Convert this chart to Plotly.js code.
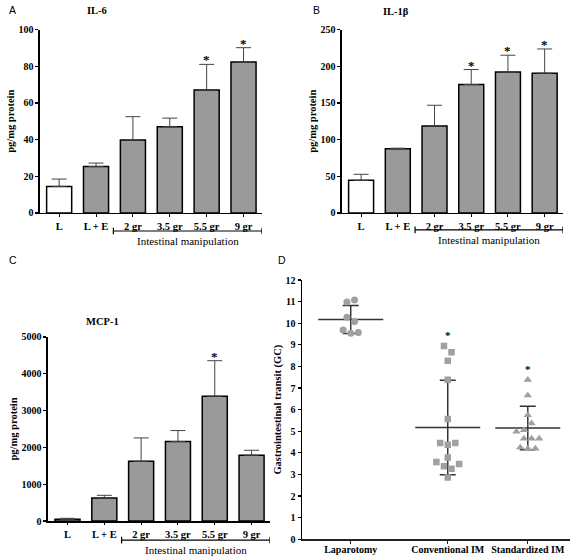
<!DOCTYPE html>
<html><head><meta charset="utf-8">
<script src="https://cdn.plot.ly/plotly-3.0.1.min.js"></script>
<style>html,body{margin:0;padding:0;background:#fff}#chart{width:572px;height:558px}</style>
</head><body><div id="chart"></div><script>
// ---- bar panels (A, B, C) ----
const groups = ['L', 'L + E', '2 gr', '3.5 gr', '5.5 gr', '9 gr'];
const il6 = [14.5, 25.3, 39.8, 47, 67, 82.3];
const il6Err = [4, 1.9, 12.7, 4.7, 14, 7.8];
const il6Sig = [false, false, false, false, true, true];
const il1b = [44.5, 87.5, 118.6, 175, 192, 190.5];
const il1bErr = [8.2, 0.8, 28.2, 20.5, 23, 33];
const il1bSig = [false, false, false, true, true, true];
const mcp1 = [45, 626, 1623, 2158, 3390, 1786];
const mcp1Err = [28, 72, 634, 299, 965, 136];
const mcp1Sig = [false, false, false, false, true, false];
const barFill = ['#ffffff', '#9a9a9a', '#9a9a9a', '#9a9a9a', '#9a9a9a', '#9a9a9a'];

// ---- panel D (gastrointestinal transit, GC) ----
const dotGroups = ['Laparotomy', 'Conventional IM', 'Standardized IM'];
const dotPos = [1, 2, 2.825];
const lap = [10.98, 11.08, 10.28, 10.08, 9.69, 9.54, 9.57];
const lapSlot = [-0.5, 0.5, -0.5, 0.5, -1, 0, 1];
const conv = [8.95, 8.66, 8.26, 7.38, 5.57, 4.46, 4.38, 4.46, 3.78, 3.58, 3.38, 3.26, 3.48, 2.86];
const convSlot = [-0.5, 0.5, 0, 0, 0, -1, 0, 1, 0, -1.5, -0.5, 0.5, 1.5, 0];
const stdz = [7.38, 6.66, 5.75, 5.37, 4.98, 5.05, 4.66, 4.66, 4.66, 4.25, 4.2, 4.2];
const stdzSlot = [0, 0, 0, 0.5, -1.5, -0.5, -0.5, 0.5, 1.5, -1, 0, 1];
const dotSig = [false, true, true];

const SERIF = 'Liberation Serif';
const SLOT = 0.078;

function mean(a) { return a.reduce((s, v) => s + v, 0) / a.length; }
function sd(a) { const m = mean(a); return Math.sqrt(a.reduce((s, v) => s + (v - m) * (v - m), 0) / (a.length - 1)); }

const traces = [];
const annotations = [];
const shapes = [];

function barPanel(vals, errs, sig, xa, ya) {
  traces.push({
    type: 'bar', x: groups, y: vals, xaxis: xa, yaxis: ya, width: 0.68,
    marker: { color: barFill, line: { color: '#000', width: 1.5 } },
    error_y: { type: 'data', symmetric: false, array: errs, arrayminus: errs.map(() => 0),
               color: '#444', thickness: 1, width: 7.5 },
    showlegend: false, hoverinfo: 'skip'
  });
  sig.forEach((s, i) => {
    if (!s) return;
    annotations.push({ xref: xa, yref: ya, x: groups[i], y: vals[i] + errs[i], text: '<b>*</b>',
      showarrow: false, yanchor: 'bottom', yshift: -5, font: { family: SERIF, size: 13, color: '#000' } });
  });
}

barPanel(il6, il6Err, il6Sig, 'x', 'y');
barPanel(il1b, il1bErr, il1bSig, 'x2', 'y2');
barPanel(mcp1, mcp1Err, mcp1Sig, 'x3', 'y3');

// brackets for "Intestinal manipulation"
const brackets = [ ['x', 0.586], ['x2', 0.588], ['x3', 0.032] ];
brackets.forEach(([xa, yp]) => {
  const ln = { color: '#000', width: 1.2 };
  shapes.push({ type: 'line', xref: xa, yref: 'paper', x0: 1.47, x1: 5.5, y0: yp, y1: yp, line: ln });
  shapes.push({ type: 'line', xref: xa, yref: 'paper', x0: 1.47, x1: 1.47, y0: yp - 0.006, y1: yp + 0.006, line: ln });
  shapes.push({ type: 'line', xref: xa, yref: 'paper', x0: 5.5, x1: 5.5, y0: yp - 0.006, y1: yp + 0.006, line: ln });
  annotations.push({ xref: xa, yref: 'paper', x: 3.485, y: yp - 0.018, text: 'Intestinal manipulation',
    showarrow: false, yanchor: 'middle', font: { family: SERIF, size: 11, color: '#000' } });
});

// panel D
const dotSets = [lap, conv, stdz];
const dotSlots = [lapSlot, convSlot, stdzSlot];
const dotSymbols = ['circle', 'square', 'triangle-up'];
const dotSizes = [7, 6.5, 7.5];
dotSets.forEach((vals, g) => {
  const m = mean(vals), s = sd(vals);
  traces.push({ type: 'scatter', mode: 'lines', xaxis: 'x4', yaxis: 'y4',
    x: [dotPos[g] - 0.335, dotPos[g] + 0.335], y: [m, m],
    line: { color: '#333', width: 1.5 }, showlegend: false, hoverinfo: 'skip' });
  traces.push({ type: 'scatter', mode: 'markers', xaxis: 'x4', yaxis: 'y4',
    x: [dotPos[g]], y: [m], marker: { size: 1, opacity: 0 },
    error_y: { type: 'data', array: [s], color: '#333', thickness: 1.5, width: 8 },
    showlegend: false, hoverinfo: 'skip' });
});
dotSets.forEach((vals, g) => {
  traces.push({ type: 'scatter', mode: 'markers', xaxis: 'x4', yaxis: 'y4',
    x: vals.map((v, i) => dotPos[g] + dotSlots[g][i] * SLOT), y: vals,
    marker: { symbol: dotSymbols[g], size: dotSizes[g], color: '#a0a0a0' },
    showlegend: false, hoverinfo: 'skip' });
  if (dotSig[g]) {
    annotations.push({ xref: 'x4', yref: 'y4', x: dotPos[g], y: Math.max(...vals), text: '<b>*</b>',
      showarrow: false, yanchor: 'middle', yshift: 11, font: { family: SERIF, size: 11, color: '#000' } });
  }
});

// titles & panel letters
const letterFont = { family: 'Liberation Sans', size: 10.5, color: '#000' };
[
  ['<b>IL-6</b>', 0.1696, 0.982], ['<b>IL-1β</b>', 0.692, 0.9785], ['<b>MCP-1</b>', 0.18, 0.423]
].forEach(([t, x, y]) => annotations.push({ xref: 'paper', yref: 'paper', x, y, text: t, showarrow: false,
  xanchor: 'center', yanchor: 'middle', font: { family: SERIF, size: 10.5, color: '#000' } }));
[
  ['A', 0.0227, 0.982], ['B', 0.554, 0.982], ['C', 0.0227, 0.534], ['D', 0.493, 0.534]
].forEach(([t, x, y]) => annotations.push({ xref: 'paper', yref: 'paper', x, y, text: t, showarrow: false,
  xanchor: 'center', yanchor: 'middle', font: letterFont }));

const tickF = { family: SERIF, size: 10, color: '#000', weight: 'bold' };
const catF = { family: SERIF, size: 10.5, color: '#000', weight: 'bold' };
function xCat(domain) {
  return { domain, type: 'category', range: [-0.52, 5.5], showline: true, linecolor: '#000', linewidth: 1.5,
    ticks: 'outside', ticklen: 2.5, tickwidth: 1, tickcolor: '#000', tickfont: catF,
    showgrid: false, zeroline: false, fixedrange: true };
}
function yLin(domain, range, dtick, title) {
  return { domain, range, dtick, showline: true, linecolor: '#000', linewidth: 1.5, ticks: 'outside',
    ticklen: 3, tickwidth: 1.2, tickcolor: '#000', tickfont: tickF, showgrid: false, zeroline: false,
    title: { text: title, font: { family: SERIF, size: 10.5, color: '#000', weight: 'bold' }, standoff: 2 },
    fixedrange: true };
}

const layout = {
  width: 572, height: 558, margin: { l: 0, r: 0, t: 0, b: 0 },
  paper_bgcolor: '#fff', plot_bgcolor: '#fff', bargap: 0,
  xaxis: Object.assign(xCat([0.0699, 0.4580]), { anchor: 'y' }),
  yaxis: Object.assign(yLin([0.6183, 0.9471], [0, 100], 20, 'pg/mg protein'), { anchor: 'x' }),
  xaxis2: Object.assign(xCat([0.5979, 0.9843]), { anchor: 'y2' }),
  yaxis2: Object.assign(yLin([0.6183, 0.9471], [0, 250], 50, 'pg/mg protein'), { anchor: 'x2' }),
  xaxis3: Object.assign(xCat([0.0839, 0.4720]), { anchor: 'y3', range: [-0.53, 5.5] }),
  yaxis3: Object.assign(yLin([0.0663, 0.3961], [0, 5000], 1000, 'pg/mg protein'), { anchor: 'x3' }),
  xaxis4: { domain: [0.5280, 0.9965], anchor: 'y4', range: [0.498, 3.26], showline: true, linecolor: '#222',
    linewidth: 1.5, ticks: 'outside', ticklen: 3, tickcolor: '#222', tickvals: dotPos, ticktext: dotGroups,
    ticklabelstandoff: -3, tickfont: tickF, showgrid: false, zeroline: false, fixedrange: true },
  yaxis4: Object.assign(yLin([0.0335, 0.4982], [0, 12], 1, 'Gastrointestinal transit (GC)'), { anchor: 'x4' }),
  annotations, shapes
};

Plotly.newPlot('chart', traces, layout, { staticPlot: true, displayModeBar: false });
</script></body></html>
